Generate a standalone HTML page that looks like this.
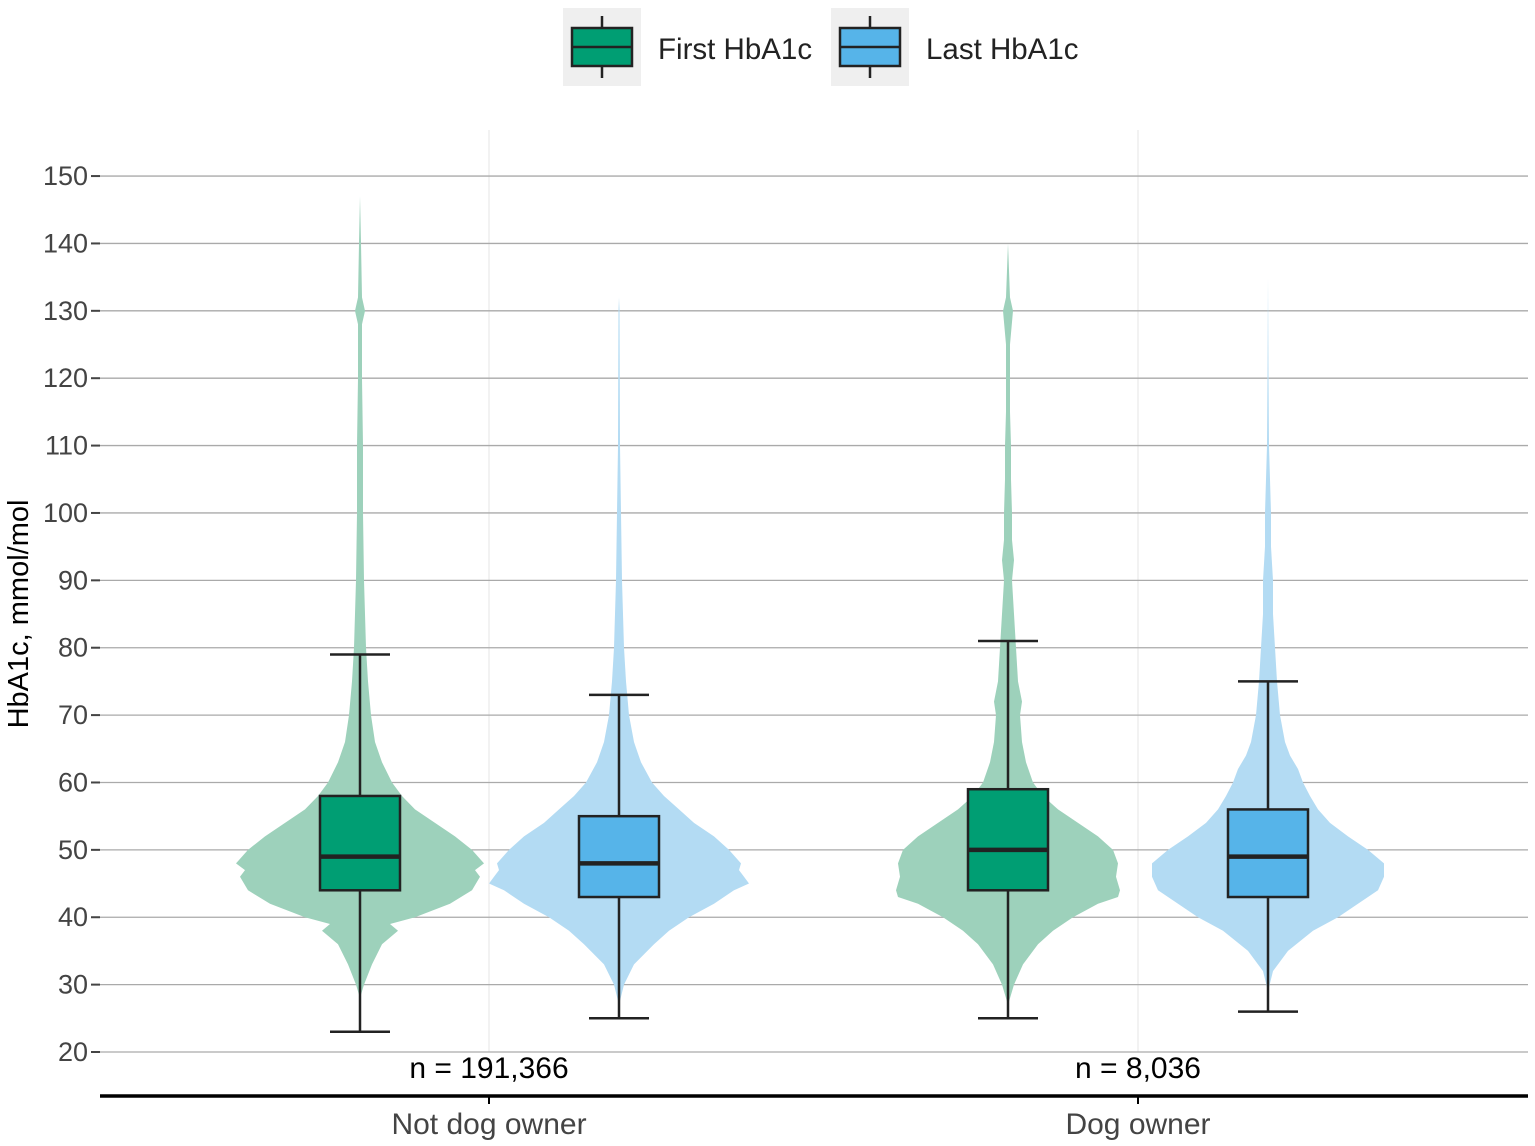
<!DOCTYPE html>
<html><head><meta charset="utf-8"><style>
body{margin:0;background:#fff;}
svg{display:block;font-family:"Liberation Sans",sans-serif;}
</style></head><body>
<svg id="s" width="1535" height="1146" viewBox="0 0 1535 1146" xmlns="http://www.w3.org/2000/svg">
<rect width="1535" height="1146" fill="#fff"/>
<g id="grid"></g>
<g id="vio"></g>
<g id="box"></g>
<!-- legend -->
<rect x="563" y="8" width="78" height="78" fill="#efefef"/>
<line x1="602" y1="16" x2="602" y2="78" stroke="#222" stroke-width="2.5"/>
<rect x="572" y="28" width="60" height="38" fill="#009E73" stroke="#222" stroke-width="2.5"/>
<line x1="572" y1="47" x2="632" y2="47" stroke="#222" stroke-width="2.5"/>
<text x="658" y="59" font-size="29.5" fill="#222">First HbA1c</text>
<rect x="831" y="8" width="78" height="78" fill="#efefef"/>
<line x1="870" y1="16" x2="870" y2="78" stroke="#222" stroke-width="2.5"/>
<rect x="840" y="28" width="60" height="38" fill="#56B4E9" stroke="#222" stroke-width="2.5"/>
<line x1="840" y1="47" x2="900" y2="47" stroke="#222" stroke-width="2.5"/>
<text x="926" y="59" font-size="29.5" fill="#222">Last HbA1c</text>
<!-- axes -->
<line x1="100" y1="1096" x2="1528" y2="1096" stroke="#000" stroke-width="3.5"/>
<line x1="489" y1="1096" x2="489" y2="1104" stroke="#000" stroke-width="2"/>
<line x1="1138" y1="1096" x2="1138" y2="1104" stroke="#000" stroke-width="2"/>
<text x="489" y="1134" font-size="30" fill="#444" text-anchor="middle">Not dog owner</text>
<text x="1138" y="1134" font-size="30" fill="#444" text-anchor="middle">Dog owner</text>
<text x="489" y="1078" font-size="30" fill="#000" text-anchor="middle">n = 191,366</text>
<text x="1138" y="1078" font-size="30" fill="#000" text-anchor="middle">n = 8,036</text>
<text transform="translate(28,614) rotate(-90)" font-size="29" fill="#000" text-anchor="middle">HbA1c, mmol/mol</text>
</svg>
<script>
var NS="http://www.w3.org/2000/svg";
function Y(v){return 1052-(v-20)*6.738;}
function el(p,t,a){var e=document.createElementNS(NS,t);for(var k in a)e.setAttribute(k,a[k]);document.getElementById(p).appendChild(e);return e;}
el("grid","line",{x1:489,y1:130,x2:489,y2:1052,stroke:"#f2f2f2","stroke-width":2});
el("grid","line",{x1:1138,y1:130,x2:1138,y2:1052,stroke:"#f2f2f2","stroke-width":2});
for(var v=20;v<=150;v+=10){var y=Y(v);
el("grid","line",{x1:100,y1:y,x2:1528,y2:y,stroke:"#aaa","stroke-width":1.3});
el("grid","line",{x1:91,y1:y,x2:100,y2:y,stroke:"#444","stroke-width":2});
var t=el("grid","text",{x:88,y:y+9,"font-size":27,fill:"#444","text-anchor":"end"});t.textContent=v;}
var P={
a:[[28,0],[30,4],[33,12],[36,22],[38,38],[39,30],[40,55],[42,90],[44,112],[46,120],[47,115],[48,124],[49,118],[50,112],[52,95],[54,75],[56,55],[58,42],[60,32],[63,22],[66,15],[70,11],[75,8],[80,6],[85,5],[90,4],[100,3],[110,3],[120,2],[128,2],[130,5],[132,2],[140,1],[147,0]],
b:[[27,0],[30,5],[33,15],[36,35],[38,50],[40,70],[42,95],[44,115],[45,130],[46,125],[47,120],[48,122],[50,110],[52,95],[54,75],[56,60],[58,45],[60,33],[63,22],[66,15],[70,10],[75,7],[80,5],[90,3],[100,2],[110,1],[130,0.5],[132,0]],
c:[[27,0],[30,6],[33,15],[36,30],[38,45],[40,65],[42,90],[43,110],[44,112],[46,108],[48,110],[50,105],[52,90],[54,70],[56,50],[58,35],[60,25],[63,18],[66,14],[70,12],[72,14],[75,10],[80,8],[85,6],[90,4],[93,6],[96,4],[100,4],[105,3],[110,3],[115,2],[125,2],[130,5],[132,2],[140,0]],
d:[[29,0],[32,5],[35,20],[38,45],[40,70],[42,90],[44,110],[46,116],[48,116],[50,100],[52,80],[54,62],[56,50],[58,42],[60,35],[62,30],[64,22],[66,17],[70,12],[75,9],[80,7],[85,5],[90,5],[95,3],[100,3],[110,1],[120,0.5],[135,0]]};
var G=[
{x:360,p:P.a,vc:"#9dd1bb",bc:"#009E73",s:[23,44,49,58,79]},
{x:619,p:P.b,vc:"#b3dbf3",bc:"#56B4E9",s:[25,43,48,55,73]},
{x:1008,p:P.c,vc:"#9dd1bb",bc:"#009E73",s:[25,44,50,59,81]},
{x:1268,p:P.d,vc:"#b3dbf3",bc:"#56B4E9",s:[26,43,49,56,75]}];
G.forEach(function(g){
var pts=[];g.p.forEach(function(q){pts.push((g.x+q[1])+","+Y(q[0]));});
g.p.slice().reverse().forEach(function(q){pts.push((g.x-q[1])+","+Y(q[0]));});
el("vio","polygon",{points:pts.join(" "),fill:g.vc});
var s=g.s,x=g.x;
el("box","line",{x1:x,y1:Y(s[0]),x2:x,y2:Y(s[4]),stroke:"#222","stroke-width":2.5});
el("box","line",{x1:x-30,y1:Y(s[0]),x2:x+30,y2:Y(s[0]),stroke:"#222","stroke-width":2.5});
el("box","line",{x1:x-30,y1:Y(s[4]),x2:x+30,y2:Y(s[4]),stroke:"#222","stroke-width":2.5});
el("box","rect",{x:x-40,y:Y(s[3]),width:80,height:Y(s[1])-Y(s[3]),fill:g.bc,stroke:"#222","stroke-width":2.5});
el("box","line",{x1:x-40,y1:Y(s[2]),x2:x+40,y2:Y(s[2]),stroke:"#222","stroke-width":4.5});
});
</script>
</body></html>
